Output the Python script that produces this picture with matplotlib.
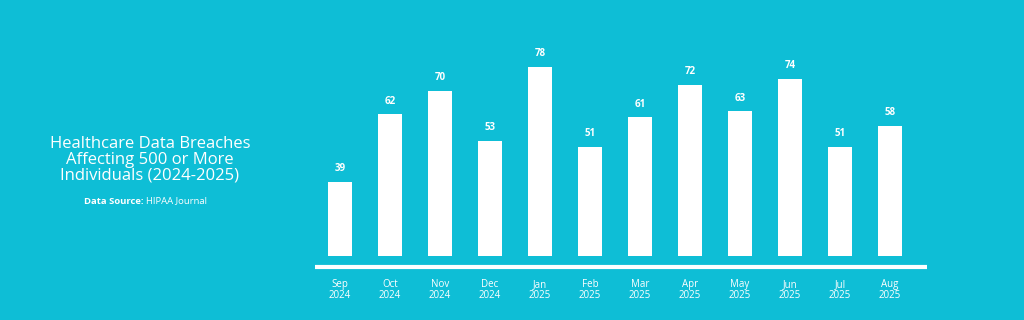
import matplotlib.pyplot as plt

months = ["Sep\n2024", "Oct\n2024", "Nov\n2024", "Dec\n2024", "Jan\n2025", "Feb\n2025",
          "Mar\n2025", "Apr\n2025", "May\n2025", "Jun\n2025", "Jul\n2025", "Aug\n2025"]
breaches = [39, 62, 70, 53, 78, 51, 61, 72, 63, 74, 51, 58]

bg = "#0EBED6"
base = 14  # bars start from here, like the infographic

plt.rcParams['font.family'] = ['Open Sans', 'DejaVu Sans']

fig = plt.figure(figsize=(10.24, 3.2), dpi=100, facecolor=bg)
ax = fig.add_axes([315/1024, 45/320, 612/1024, 235/320])
ax.set_facecolor(bg)

x = list(range(len(months)))
ax.bar(x, [v - base for v in breaches], bottom=base, width=0.47, color="white")
for xi, v in zip(x, breaches):
    ax.annotate(str(v), (xi, v), xytext=(0, 9.5), textcoords="offset points",
                ha="center", va="center", color="white", fontsize=7, fontweight="bold")

ax.plot([-0.5, 11.74], [10.3, 10.3], color="white", lw=3, solid_capstyle="butt")

ax.set_xlim(-0.5, 11.74)
ax.set_ylim(7.5, 87.2)
ax.set_xticks(x)
ax.set_xticklabels(months, color="white", fontsize=7, linespacing=0.95)
ax.tick_params(axis="x", length=0, pad=3)
ax.set_yticks([])
for s in ax.spines.values():
    s.set_visible(False)

fig.text(150/1024, 1 - 160/320, "Healthcare Data Breaches\nAffecting 500 or More\nIndividuals (2024-2025)",
         ha="center", va="center", color="white", fontsize=12, linespacing=0.98)
fig.text(143/1024, 1 - 201/320, "Data Source:", ha="right", va="center",
         color="white", fontsize=6.8, fontweight="bold")
fig.text(146/1024, 1 - 201/320, "HIPAA Journal", ha="left", va="center",
         color="white", fontsize=6.8)

fig.savefig("out.png", dpi=100, facecolor=bg)
